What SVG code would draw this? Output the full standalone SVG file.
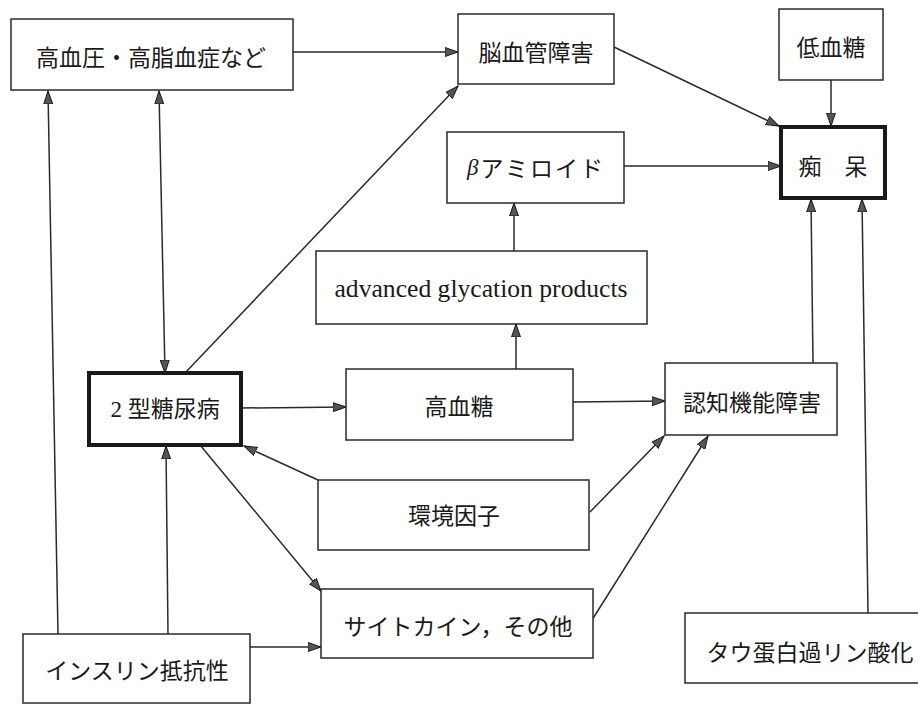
<svg xmlns="http://www.w3.org/2000/svg" width="918" height="706" viewBox="0 0 918 706">
<style>
.box{fill:#fff;stroke:#2a2a2a;stroke-width:1.5}
.thick{fill:#fff;stroke:#1a1a1a;stroke-width:4}
.t{font-family:"Noto Sans CJK JP","Liberation Serif",sans-serif;font-size:23px;fill:#1a1a1a;text-anchor:middle;dominant-baseline:central}
.lat{font-family:"Liberation Serif","Noto Sans CJK JP",serif;font-size:23px;fill:#1a1a1a;text-anchor:middle;dominant-baseline:central}
.c line{stroke:#2a2a2a;stroke-width:1.5;fill:none;marker-end:url(#ah)}
</style>
<defs>
<marker id="ah" markerUnits="userSpaceOnUse" markerWidth="14" markerHeight="10" refX="13" refY="5" orient="auto-start-reverse">
<path d="M0,0.5 L13,5 L0,9.5 z" fill="#555" stroke="#1a1a1a" stroke-width="1"/>
</marker>
</defs>
<g class="c" id="connectors">
<line x1="293" y1="52" x2="458" y2="52"/>
<line x1="614" y1="47" x2="779" y2="126"/>
<line x1="831" y1="80" x2="831" y2="126"/>
<line x1="624" y1="166" x2="781" y2="166"/>
<line x1="514" y1="251" x2="514" y2="203"/>
<line x1="516" y1="369" x2="516" y2="324"/>
<line x1="241" y1="408" x2="346" y2="407"/>
<line x1="573" y1="402" x2="665" y2="401"/>
<line x1="813" y1="363" x2="811" y2="199"/>
<line x1="868" y1="613" x2="862" y2="199"/>
<line x1="165" y1="373" x2="159" y2="91" style="marker-start:url(#ah)"/>
<line x1="58" y1="634" x2="48" y2="91"/>
<line x1="168" y1="634" x2="166" y2="446"/>
<line x1="185" y1="373" x2="458" y2="86"/>
<line x1="250" y1="647" x2="321" y2="647"/>
<line x1="200" y1="445" x2="321" y2="591"/>
<line x1="318" y1="480" x2="244" y2="446"/>
<line x1="590" y1="512" x2="664" y2="436"/>
<line x1="592" y1="620" x2="708" y2="436"/>
</g>
<g id="n-hypertension"><rect class="box" x="11" y="19" width="282" height="71"/><text class="t" x="151" y="56">高血圧・高脂血症など</text></g>
<g id="n-cerebro"><rect class="box" x="458" y="14" width="156" height="70"/><text class="t" x="536" y="51">脳血管障害</text></g>
<g id="n-hypoglycemia"><rect class="box" x="779" y="9" width="104" height="71"/><text class="t" x="831" y="46">低血糖</text></g>
<g id="n-dementia"><rect class="thick" x="781" y="127" width="104" height="71"/><text class="t" x="833" y="165">痴　呆</text></g>
<g id="n-amyloid"><rect class="box" x="447" y="132" width="177" height="71"/><text class="t" x="536" y="167" style="letter-spacing:2px"><tspan font-family="Liberation Serif" font-style="italic">β</tspan>アミロイド</text></g>
<g id="n-agp"><rect class="box" x="316" y="251" width="331" height="73"/><text class="lat" x="481" y="288" style="font-size:25px" textLength="293" lengthAdjust="spacingAndGlyphs">advanced glycation products</text></g>
<g id="n-hyperglycemia"><rect class="box" x="346" y="369" width="227" height="71"/><text class="t" x="459" y="405">高血糖</text></g>
<g id="n-cognitive"><rect class="box" x="665" y="363" width="172" height="72"/><text class="t" x="752" y="401">認知機能障害</text></g>
<g id="n-diabetes"><rect class="thick" x="89" y="373" width="152" height="72"/><text class="lat" x="165" y="409">2 型糖尿病</text></g>
<g id="n-environment"><rect class="box" x="318" y="480" width="271" height="70"/><text class="t" x="454" y="514">環境因子</text></g>
<g id="n-cytokine"><rect class="box" x="321" y="589" width="272" height="69"/><text class="t" x="458" y="625">サイトカイン，その他</text></g>
<g id="n-insulin"><rect class="box" x="23" y="634" width="227" height="69"/><text class="t" x="137" y="669">インスリン抵抗性</text></g>
<g id="n-tau"><rect class="box" x="685" y="613" width="260" height="70"/><text class="t" x="810" y="651">タウ蛋白過リン酸化</text></g>
</svg>
